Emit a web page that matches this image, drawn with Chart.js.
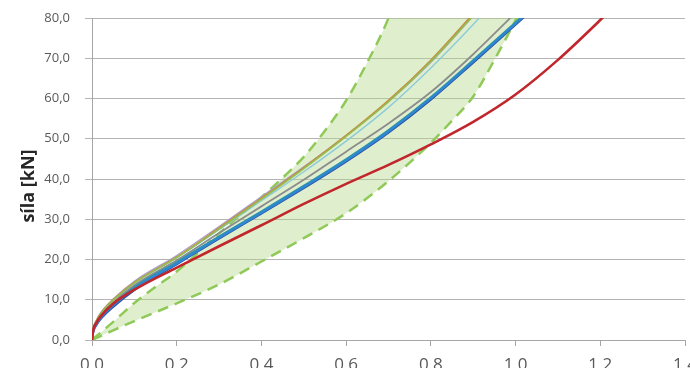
<!DOCTYPE html>
<html>
<head>
<meta charset="utf-8">
<script src="https://cdn.jsdelivr.net/npm/chart.js@4.4.1/dist/chart.umd.min.js"></script>
<style>
  html, body { margin: 0; padding: 0; background: #fff; overflow: hidden; width: 690px; height: 368px; }
  #wrap { position: absolute; left: 0; top: 0; width: 700px; height: 382px; }
</style>
</head>
<body>
<div id="wrap"><canvas id="c" width="700" height="382"></canvas></div>
<script>
// ---- data (deformation [mm] -> force [kN]) ----
const xGrid = [0, 0.003, 0.01, 0.02, 0.05, 0.1, 0.2, 0.3, 0.4, 0.5, 0.6, 0.7, 0.8, 0.9, 1.0, 1.1, 1.2, 1.3];

const redY       = [0, 2.5, 4.2, 5.8, 9.0, 12.5, 18.0, 23.3, 28.5, 33.8, 38.8, 43.5, 48.6, 54.2, 61.0, 69.6, 79.5, 90];
const navyY      = [0, 2.0, 3.6, 5.1, 8.2, 12.4, 18.8, 25.2, 31.4, 37.7, 44.3, 51.5, 59.7, 68.9, 78.3, 87.9];
const blueY      = [0, 2.2, 3.8, 5.4, 8.6, 12.8, 19.0, 25.4, 31.6, 38.0, 44.6, 51.8, 60.0, 69.2, 78.6, 88.2];
const tealY      = [0, 2.3, 4.0, 5.6, 8.9, 13.2, 19.4, 25.8, 32.0, 38.4, 45.0, 52.2, 60.4, 69.6, 79.0, 88.6];
const grayY      = [0, 2.5, 4.3, 6.0, 9.3, 13.6, 19.8, 26.6, 33.2, 39.8, 46.8, 53.8, 61.6, 71.0, 81.3];
const lightCyanY = [0, 2.6, 4.5, 6.3, 9.8, 14.1, 20.4, 27.4, 34.6, 41.8, 49.4, 57.8, 67.6, 78.4, 90];
const greenY     = [0, 2.7, 4.6, 6.4, 9.9, 14.2, 20.5, 27.6, 35.0, 42.6, 50.6, 59.2, 69.2, 80.6];
const orangeY    = [0, 2.8, 4.7, 6.5, 10.0, 14.3, 20.6, 27.8, 35.2, 42.8, 50.8, 59.5, 69.5, 81.0];
const purpleY    = [0, 2.9, 4.8, 6.7, 10.2, 14.6, 21.0, 28.2, 35.6, 43.0, 50.8, 59.2, 69.0, 80.5];

// envelope (dashed bounds)
const upperX = [0, 0.05, 0.1, 0.15, 0.2, 0.3, 0.4, 0.45, 0.5, 0.55, 0.6, 0.65, 0.7, 0.72, 1.1];
const upperY = [0, 4.5, 9.2, 13.2, 17.0, 26.5, 35.5, 40.3, 45.5, 52.0, 59.5, 69.0, 80.0, 86, 105];
const lowerX = [0, 0.05, 0.1, 0.2, 0.3, 0.4, 0.5, 0.6, 0.7, 0.8, 0.85, 0.9, 0.95, 1.0, 1.03];
const lowerY = [0, 2.4, 4.7, 9.1, 13.8, 19.5, 25.3, 31.5, 39.5, 49.0, 54.5, 60.5, 69.6, 79.5, 86];

const yTicks = [0, 10, 20, 30, 40, 50, 60, 70, 80];
const xTicks = [0, 0.2, 0.4, 0.6, 0.8, 1.0, 1.2, 1.4];
const yTitle = 'síla [kN]';

function pts(xs, ys) { return ys.map((y, i) => ({ x: xs[i], y: y })); }
function solid(label, ys, color, w) {
  return { label, data: pts(xGrid, ys), borderColor: color, borderWidth: w,
           pointRadius: 0, fill: false, cubicInterpolationMode: 'monotone' };
}
const fmt = v => Number(v).toFixed(1).replace('.', ',');

const datasets = [
  solid('red', redY, '#c1262c', 2.6),
  solid('blue', blueY, '#2f87d2', 2.2),
  solid('teal', tealY, '#2a93a8', 1.6),
  solid('navy', navyY, '#2c4ea3', 2.0),
  solid('gray', grayY, '#8c8c8c', 1.8),
  solid('green', greenY, '#95bd52', 1.6),
  solid('orange', orangeY, '#c98a3c', 1.8),
  solid('lightcyan', lightCyanY, '#8ccbd9', 1.4),
  solid('purple', purpleY, '#ab9fd3', 1.4),
  { label: 'upper', data: pts(upperX, upperY), borderColor: '#8fc957', borderWidth: 2.5,
    borderDash: [11, 7], pointRadius: 0, cubicInterpolationMode: 'monotone',
    fill: { target: 10 }, backgroundColor: 'rgba(178, 214, 135, 0.42)' },
  { label: 'lower', data: pts(lowerX, lowerY), borderColor: '#8fc957', borderWidth: 2.5,
    borderDash: [11, 7], pointRadius: 0, cubicInterpolationMode: 'monotone', fill: false }
];

new Chart(document.getElementById('c'), {
  type: 'line',
  data: { datasets },
  options: {
    responsive: false,
    devicePixelRatio: 1,
    animation: false,
    layout: { padding: { left: 0, right: 15, top: 18, bottom: 0 } },
    plugins: { legend: { display: false }, tooltip: { enabled: false }, filler: { drawTime: 'beforeDatasetsDraw', propagate: false } },
    scales: {
      x: {
        type: 'linear', min: 0, max: 1.4,
        afterBuildTicks: s => { s.ticks = xTicks.map(v => ({ value: v })); },
        afterFit: s => { s.height = 42; s.paddingLeft = 0; s.paddingRight = 0; },
        grid: { drawOnChartArea: false, drawTicks: true, tickLength: 6, color: '#a6a6a6' },
        border: { display: true, color: '#a6a6a6', width: 1 },
        ticks: { callback: fmt, color: '#595959', font: { family: 'Open Sans', size: 17 }, padding: 9, maxRotation: 0 }
      },
      y: {
        type: 'linear', min: 0, max: 80,
        afterBuildTicks: s => { s.ticks = yTicks.map(v => ({ value: v })); },
        afterFit: s => { s.width = 92; s.paddingTop = 0; s.paddingBottom = 0; },
        grid: { color: '#b4b4b4', tickLength: 7, drawTicks: true },
        border: { display: true, color: '#a6a6a6', width: 1 },
        ticks: { callback: fmt, color: '#595959', font: { family: 'Open Sans', size: 13 }, padding: 15 },
        title: { display: true, text: yTitle + '   ', color: '#262626', font: { family: 'Open Sans', size: 18, weight: 'bold' }, padding: { top: 18, bottom: 0 } }
      }
    }
  }
});
</script>
</body>
</html>
